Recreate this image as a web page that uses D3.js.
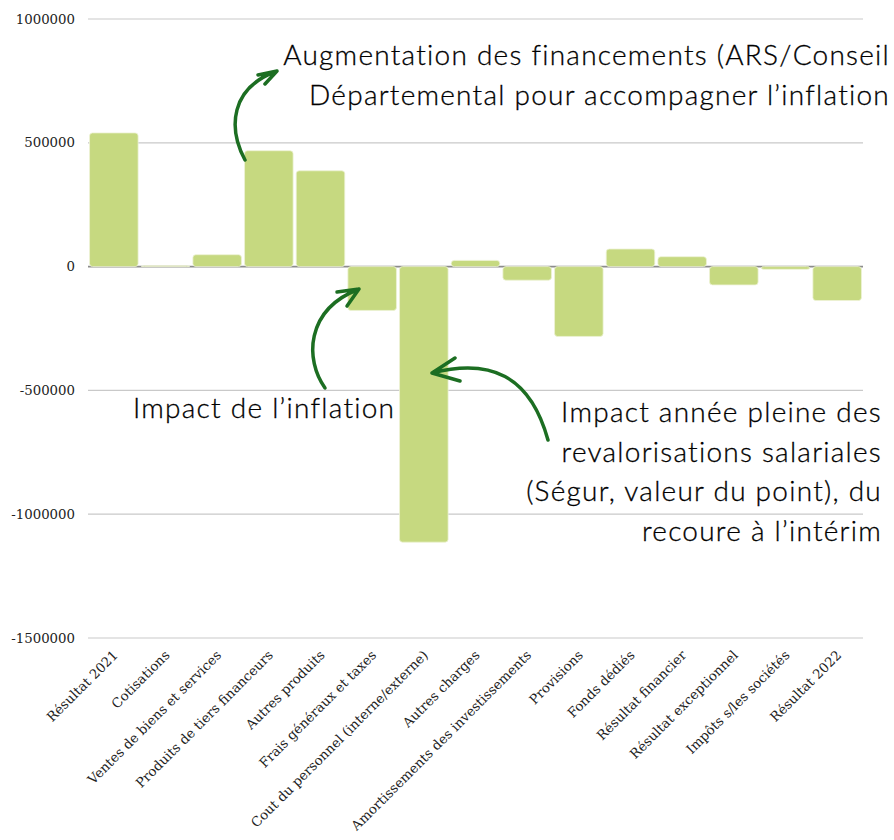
<!DOCTYPE html>
<html>
<head>
<meta charset="utf-8">
<script src="https://cdn.jsdelivr.net/npm/d3@7"></script>
<style>
	body { margin: 0; background: #fff; }
	.tick-label { font-family: 'DejaVu Serif', serif; font-size: 13.3px; fill: #222; }
	.note { font-family: 'Lato', sans-serif; font-weight: 300; font-size: 28px; letter-spacing: 1.25px; fill: #000; stroke: #000; stroke-width: 0.3px; }
</style>
</head>
<body>
<div id="chart"></div>
<script>
const categories = [
	'Résultat 2021', 'Cotisations', 'Ventes de biens et services', 'Produits de tiers financeurs',
	'Autres produits', 'Frais généraux et taxes', 'Cout du personnel (interne/externe)', 'Autres charges',
	'Amortissements des investissements', 'Provisions', 'Fonds dédiés', 'Résultat financier',
	'Résultat exceptionnel', 'Impôts s/les sociétés', 'Résultat 2022'
];
const values = [
	540000, 3000, 48000, 468000, 387000, -177000, -1113000, 25000,
	-55000, -282000, 71000, 40000, -74000, -11000, -137000
];
const yTicks = [1000000, 500000, 0, -500000, -1000000, -1500000];

const notes = [
	{ lines: ['Augmentation des financements (ARS/Conseil', 'Départemental pour accompagner l\u2019inflation'], x: 890, y: 65, anchor: 'end' },
	{ lines: ['Impact de l\u2019inflation'], x: 133, y: 418, anchor: 'start' },
	{ lines: ['Impact année pleine des', 'revalorisations salariales', '(Ségur, valeur du point), du', 'recoure à l\u2019intérim'], x: 882, y: 422, anchor: 'end' }
];

const width = 894, height = 840;
const margin = { left: 88, right: 31, top: 19, bottom: 202 };

const svg = d3.select('#chart')
	.append('svg')
	.attr('width', width)
	.attr('height', height);

const x = d3.scaleBand()
	.domain(categories)
	.range([margin.left, width - margin.right])
	.paddingInner(0.06)
	.paddingOuter(0.03);

const y = d3.scaleLinear()
	.domain([-1500000, 1000000])
	.range([height - margin.bottom, margin.top]);

// grid lines
svg.append('g')
	.selectAll('line')
	.data(yTicks)
	.enter()
	.append('line')
	.attr('x1', margin.left)
	.attr('x2', width - margin.right)
	.attr('y1', (d) => y(d))
	.attr('y2', (d) => y(d))
	.style('stroke', (d) => (d === 0 ? '#8c8c8c' : '#c9c9c9'))
	.style('stroke-width', (d) => (d === 0 ? 1.6 : 1.2));

svg.append('g')
	.selectAll('text')
	.data(yTicks)
	.enter()
	.append('text')
	.attr('class', 'tick-label')
	.attr('x', 75)
	.attr('y', (d) => y(d))
	.attr('dy', '0.35em')
	.attr('text-anchor', 'end')
	.text((d) => d);

// bars
svg.append('g')
	.selectAll('rect')
	.data(values)
	.enter()
	.append('rect')
	.attr('x', (d, i) => x(categories[i]))
	.attr('width', x.bandwidth())
	.attr('y', (d) => y(Math.max(0, d)))
	.attr('height', (d) => Math.abs(y(d) - y(0)))
	.attr('rx', 3)
	.style('fill', '#c6d980')
	.style('stroke', '#edf3d6')
	.style('stroke-width', 0.8);

// category labels, rotated
svg.append('g')
	.selectAll('text')
	.data(categories)
	.enter()
	.append('text')
	.attr('class', 'tick-label')
	.attr('text-anchor', 'end')
	.attr('transform', (d) => 'translate(' + (x(d) + x.bandwidth() / 2 + 5) + ',' + 656 + ') rotate(-45)')
	.text((d) => d);

// annotations
notes.forEach((n) => {
	const t = svg.append('text')
		.attr('class', 'note')
		.attr('text-anchor', n.anchor);
	n.lines.forEach((line, i) => {
		t.append('tspan')
			.attr('x', n.x)
			.attr('y', n.y + i * 39.5)
			.text(line);
	});
});

// arrows (hand drawn look)
const arrows = [
	{ curve: [[245, 160], [228, 128], [230, 88], [277, 71]], arms: [[258, 75], [265, 84]] },
	{ curve: [[325, 388], [305, 360], [305, 310], [359, 289]], arms: [[337, 292], [347, 306]] },
	{ curve: [[548, 440], [530, 375], [490, 358], [432, 373]], arms: [[455, 358], [460, 381]] }
];

arrows.forEach((a) => {
	const p = d3.path();
	const c = a.curve;
	p.moveTo(c[0][0], c[0][1]);
	p.bezierCurveTo(c[1][0], c[1][1], c[2][0], c[2][1], c[3][0], c[3][1]);
	p.moveTo(a.arms[0][0], a.arms[0][1]);
	p.lineTo(c[3][0], c[3][1]);
	p.lineTo(a.arms[1][0], a.arms[1][1]);
	svg.append('path')
		.attr('d', p.toString())
		.style('fill', 'none')
		.style('stroke', '#1c6e22')
		.style('stroke-width', 3.5)
		.style('stroke-linecap', 'round')
		.style('stroke-linejoin', 'round');
});
</script>
</body>
</html>
